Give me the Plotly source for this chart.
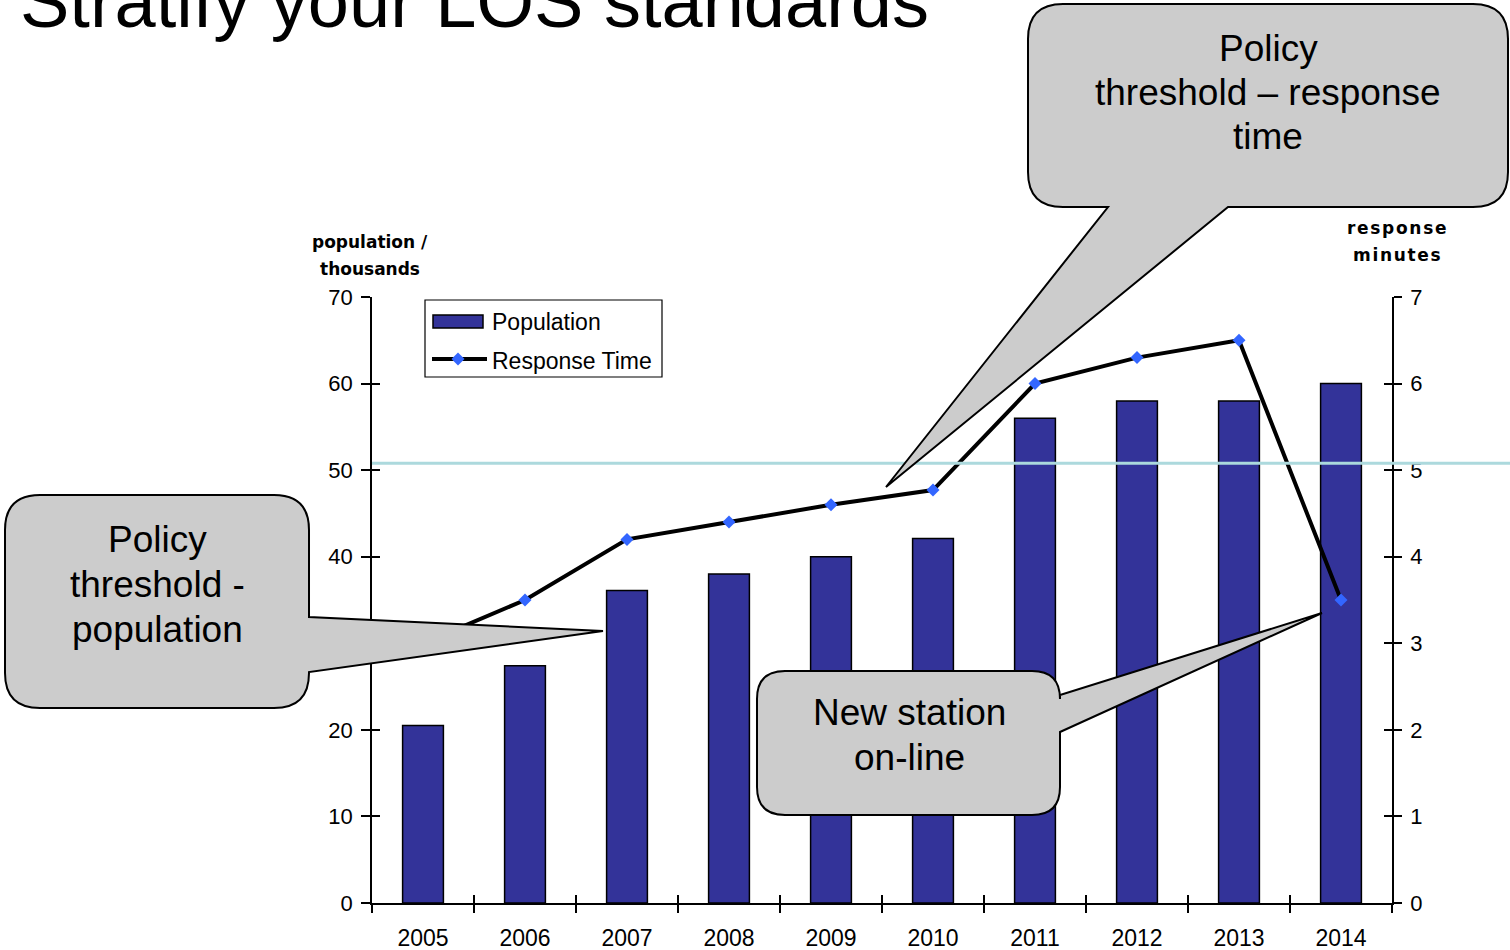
import plotly.graph_objects as go

# ---- data ----
years = ["2005", "2006", "2007", "2008", "2009", "2010", "2011", "2012", "2013", "2014"]
population_thousands = [20.5, 27.4, 36.1, 38.0, 40.0, 42.1, 56.0, 58.0, 58.0, 60.0]
response_minutes = [3.0, 3.5, 4.2, 4.4, 4.6, 4.77, 6.0, 6.3, 6.5, 3.5]
threshold_minutes = 5.08
pop_ticks = [0, 10, 20, 30, 40, 50, 60, 70]
min_ticks = [0, 1, 2, 3, 4, 5, 6, 7]

# ---- page geometry (pixels) ----
W, H = 1510, 950
L, R, T, B = 372, 118, 297, 47
PW, PH = W - L - R, H - T - B

FONT = "Liberation Sans, Arial, sans-serif"
BAR = "#333399"
DOT = "#3366ff"
GREY = "#cccccc"


def px(x):
    return (x - L) / PW


def py(y):
    return (H - B - y) / PH


def pt(x, y):
    return f"{px(x):.5f},{py(y):.5f}"


def callout(x0, y0, x1, y1, r, top=(), right=(), bottom=(), left=()):
    """Rounded box with a pointer, as an SVG path in paper units."""
    d = [f"M{pt(x0 + r, y0)}"]
    d += [f"L{pt(*p)}" for p in top]
    d += [f"L{pt(x1 - r, y0)}", f"Q{pt(x1, y0)} {pt(x1, y0 + r)}"]
    d += [f"L{pt(*p)}" for p in right]
    d += [f"L{pt(x1, y1 - r)}", f"Q{pt(x1, y1)} {pt(x1 - r, y1)}"]
    d += [f"L{pt(*p)}" for p in bottom]
    d += [f"L{pt(x0 + r, y1)}", f"Q{pt(x0, y1)} {pt(x0, y1 - r)}"]
    d += [f"L{pt(*p)}" for p in left]
    d += [f"L{pt(x0, y0 + r)}", f"Q{pt(x0, y0)} {pt(x0 + r, y0)}", "Z"]
    return dict(type="path", xref="paper", yref="paper", path=" ".join(d),
                fillcolor=GREY, line=dict(color="black", width=2), layer="above")


fig = go.Figure()

fig.add_trace(go.Bar(
    x=years, y=population_thousands, name="Population",
    marker=dict(color=BAR, line=dict(color="black", width=1.5)),
    width=0.4, xaxis="x", yaxis="y", showlegend=False, hoverinfo="skip",
))
fig.add_trace(go.Scatter(
    x=years, y=response_minutes, name="Response Time", mode="lines+markers",
    line=dict(color="black", width=4),
    marker=dict(symbol="diamond", size=10, color=DOT),
    xaxis="x", yaxis="y2", showlegend=False, hoverinfo="skip", cliponaxis=False,
))
# invisible carriers for the inward half of the crossing tick marks
fig.add_trace(go.Scatter(x=years, y=population_thousands, mode="markers",
                         marker=dict(opacity=0), xaxis="x3", yaxis="y3",
                         showlegend=False, hoverinfo="skip"))
fig.add_trace(go.Scatter(x=years, y=response_minutes, mode="markers",
                         marker=dict(opacity=0), xaxis="x", yaxis="y4",
                         showlegend=False, hoverinfo="skip"))

xtickfont = dict(family=FONT, size=23, color="black")
ytickfont = dict(family=FONT, size=22, color="black")
common_x = dict(type="category", categoryorder="array", categoryarray=years,
                range=[-0.5, len(years) - 0.5], tickson="boundaries",
                showgrid=False, zeroline=False, ticklen=8, tickwidth=1.5,
                tickcolor="black", automargin=False)
common_y = dict(showgrid=False, zeroline=False, tickwidth=1.5, tickcolor="black",
                automargin=False)

shapes = []

# light blue policy line for response time
shapes.append(dict(type="line", xref="paper", yref="paper",
                   x0=0, x1=px(W), y0=threshold_minutes / min_ticks[-1],
                   y1=threshold_minutes / min_ticks[-1],
                   line=dict(color="#acd9dd", width=3), layer="above"))

# speech-bubble callouts
shapes.append(callout(1028, 4, 1508, 207, 35,
                      bottom=[(1228, 207), (886, 487), (1108, 207)]))
shapes.append(callout(5, 495, 309, 708, 35,
                      right=[(309, 617), (603, 631), (309, 672)]))
shapes.append(callout(757, 671, 1060, 815, 28,
                      right=[(1060, 695), (1322, 613), (1060, 732)]))

# legend box and swatches
shapes.append(dict(type="rect", xref="paper", yref="paper",
                   x0=px(425), x1=px(662), y0=py(377), y1=py(300),
                   fillcolor="white", line=dict(color="black", width=1.2)))
shapes.append(dict(type="rect", xref="paper", yref="paper",
                   x0=px(433), x1=px(483), y0=py(328), y1=py(315),
                   fillcolor=BAR, line=dict(color="black", width=1.5)))
shapes.append(dict(type="line", xref="paper", yref="paper",
                   x0=px(432), x1=px(487), y0=py(359), y1=py(359),
                   line=dict(color="black", width=4)))
shapes.append(dict(type="path", xref="paper", yref="paper",
                   path=f"M{pt(458, 352.5)} L{pt(464.5, 359)} L{pt(458, 365.5)} L{pt(451.5, 359)} Z",
                   fillcolor=DOT, line=dict(width=0)))

annotations = []


def text(s, x, y, size, anchor="center", bold=False, family=FONT):
    annotations.append(dict(
        text=f"<b>{s}</b>" if bold else s, xref="paper", yref="paper",
        x=px(x), y=py(y), xanchor=anchor, yanchor="middle", showarrow=False,
        font=dict(family=family, size=size, color="black"),
    ))


text("Stratify your LOS standards", 18, 1, 74, anchor="left")

for s, y in [("Policy", 48), ("threshold – response", 92), ("time", 137)]:
    text(s, 1268, y, 37)
for s, y in [("Policy", 539), ("threshold -", 584), ("population", 629)]:
    text(s, 157, y, 37)
for s, y in [("New station", 712), ("on-line", 757)]:
    text(s, 909, y, 37)

BOLD = "DejaVu Sans, sans-serif"
text("population /", 370, 242, 17, bold=True, family=BOLD)
text("thousands", 370, 269, 17, bold=True, family=BOLD)
hs = "\u200a"
text(hs.join("response"), 1397, 228, 17, bold=True, family=BOLD)
text(hs.join("minutes"), 1397, 255, 17, bold=True, family=BOLD)

text("Population", 490, 322, 23, anchor="left")
text("Response Time", 490, 361, 23, anchor="left")

fig.update_layout(
    width=W, height=H,
    margin=dict(l=L, r=R, t=T, b=B, pad=0, autoexpand=False),
    paper_bgcolor="white", plot_bgcolor="white",
    showlegend=False, bargap=0.6,
    xaxis=dict(**common_x, ticks="outside", showline=True, linecolor="black",
               linewidth=1.5, tickfont=xtickfont, ticklabelstandoff=14,
               anchor="y"),
    xaxis3=dict(**common_x, ticks="inside", showline=False,
                showticklabels=False, overlaying="x", anchor="y"),
    yaxis=dict(**common_y, range=[0, 70], tickvals=pop_ticks, ticks="outside",
               ticklen=9, showline=True, linecolor="black", linewidth=1.5,
               tickfont=ytickfont, ticklabelstandoff=4, anchor="x"),
    yaxis3=dict(**common_y, range=[0, 70], tickvals=pop_ticks, ticks="inside",
                ticklen=8, showticklabels=False, showline=False,
                overlaying="y", side="left", anchor="x"),
    yaxis2=dict(**common_y, range=[0, 7], tickvals=min_ticks, ticks="outside",
                ticklen=8, showline=True, linecolor="black", linewidth=1.5,
                tickfont=ytickfont, ticklabelstandoff=4, overlaying="y",
                side="right", anchor="x"),
    yaxis4=dict(**common_y, range=[0, 7], tickvals=min_ticks, ticks="inside",
                ticklen=8, showticklabels=False, showline=False,
                overlaying="y", side="right", anchor="x"),
    shapes=shapes, annotations=annotations,
)

fig.write_html("out.html")
